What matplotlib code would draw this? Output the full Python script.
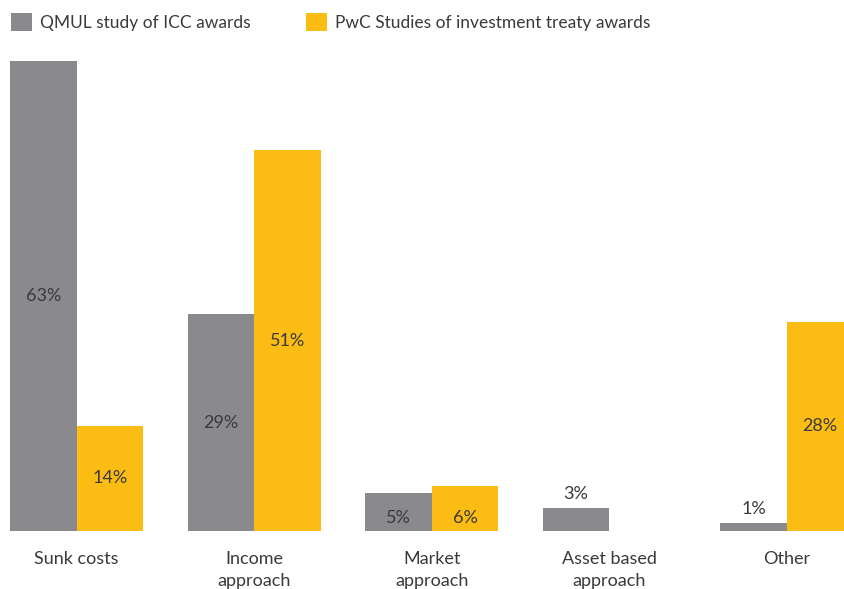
import matplotlib
matplotlib.use("Agg")
import matplotlib.pyplot as plt
import matplotlib.patches as mpatches
import numpy as np

categories = ["Sunk costs", "Income\napproach", "Market\napproach", "Asset based\napproach", "Other"]
qmul = [63, 29, 5, 3, 1]
pwc = [14, 51, 6, 0, 28]
series_names = ["QMUL study of ICC awards", "PwC Studies of investment treaty awards"]

GRAY = "#8a8a8e"
YELLOW = "#fbbc13"
TEXT = "#3a3a3a"
FONT = "Lato"

plt.rcParams["font.family"] = [FONT, "DejaVu Sans"]

fig = plt.figure(figsize=(8.44, 5.89), dpi=100)
ax = fig.add_axes([0, 1 - 530.6 / 589, 1, 530.6 / 589])

x = np.arange(len(categories))
w = 66.5 / 177.6
ax.bar(x - w / 2, qmul, width=w, color=GRAY, linewidth=0)
ax.bar(x + w / 2, pwc, width=w, color=YELLOW, linewidth=0)

ax.set_xlim(-76.5 / 177.6, (844 - 76.5) / 177.6)
ax.set_ylim(0, 63 * 530.6 / 469.6)

fs = 13
for xs, vals in ((x - w / 2, qmul), (x + w / 2, pwc)):
    for xi, v in zip(xs, vals):
        if v <= 0:
            continue
        if v >= 10:
            ax.text(xi, v / 2, f"{v}%", ha="center", va="center", fontsize=fs, color=TEXT)
        elif v >= 5:
            ax.text(xi, 1.75, f"{v}%", ha="center", va="center", fontsize=fs, color=TEXT)
        else:
            ax.annotate(f"{v}%", (xi, v), xytext=(0, 10.5), textcoords="offset points",
                        ha="center", va="center", fontsize=fs, color=TEXT)

ax.set_xticks(x)
ax.set_xticklabels(categories, fontsize=fs, color=TEXT, linespacing=1.45)
ax.tick_params(axis="x", length=0, pad=14.5)
ax.set_yticks([])
for s in ax.spines.values():
    s.set_visible(False)
ax.patch.set_alpha(0)

lfs = 12.5
handles = [mpatches.Patch(color=GRAY, linewidth=0), mpatches.Patch(color=YELLOW, linewidth=0)]
fig.legend(handles, series_names, loc="upper left", bbox_to_anchor=(11 / 844, 1 - 13 / 589),
           ncol=2, frameon=False, fontsize=lfs, handlelength=1.21, handleheight=1.21,
           handletextpad=0.46, columnspacing=3.2, labelcolor=TEXT, borderaxespad=0,
           borderpad=0)

fig.savefig("out.png", dpi=100)
